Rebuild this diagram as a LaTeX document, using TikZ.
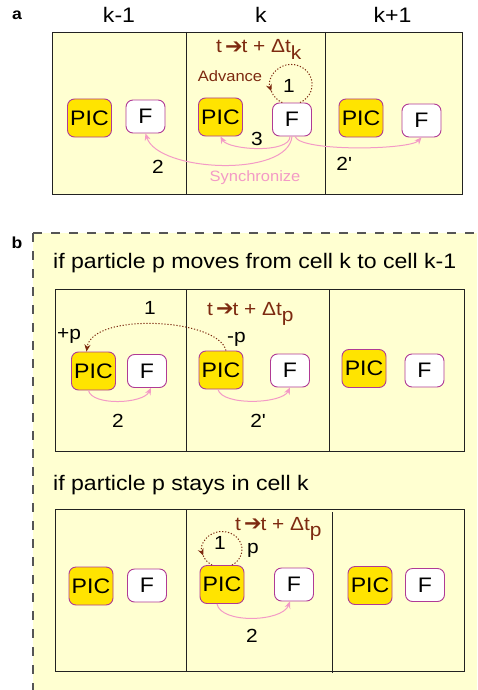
\documentclass[tikz,border=0pt]{standalone}
\usepackage{fontspec}
\setmainfont[FakeStretch=1.1]{Liberation Sans}
\newfontfamily\dvfont{DejaVu Sans}
\usetikzlibrary{arrows.meta,calc}
\definecolor{bgy}{HTML}{FFFFD1}
\definecolor{picy}{HTML}{FFE400}
\definecolor{magb}{HTML}{B03A95}
\definecolor{pinkc}{HTML}{F39AC6}
\definecolor{dred}{HTML}{7D2A10}
\definecolor{frm}{HTML}{222222}
\definecolor{dsh}{HTML}{555555}
\newcommand\fs[1]{\fontsize{#1}{#1}\selectfont}
\newcommand\tstep[1]{t\kern3pt{\dvfont\fontsize{21}{21}\selectfont\raisebox{-0.5pt}{➔}}\kern-1pt t + Δt\raisebox{-0.32em}{#1}}
\begin{document}
\begin{tikzpicture}[x=1pt,y=-1pt,
  pic/.style={draw=magb, fill=picy, rounded corners=7pt, minimum width=44pt, minimum height=38pt, inner sep=0pt, line width=0.9pt, font=\fs{21}},
  fb/.style={draw=magb, fill=white, rounded corners=7pt, minimum width=39pt, minimum height=33pt, inner sep=0pt, line width=0.9pt, font=\fs{21}},
  lbl/.style={inner sep=0pt, font=\fs{19}},
  hdr/.style={inner sep=0pt, font=\fs{21}, anchor=base},
  rtxt/.style={inner sep=0pt, text=dred, font=\fs{19}, anchor=base west},
  pk/.style={draw=pinkc, line width=1pt, -{Stealth[length=7pt,width=6pt]}},
  dl/.style={draw=dred, line width=1pt, dash pattern=on 1.2pt off 1.8pt},
  dlarr/.style={dl, -{Stealth[length=7pt,width=6pt]}},
  frame/.style={draw=frm, line width=0.9pt},
  dashbrd/.style={draw=dsh, line width=1.3pt, dash pattern=on 9pt off 9pt}
]
\useasboundingbox (0,0) rectangle (477,690);
\fill[white] (0,0) rectangle (477,690);

% ---------------- panel a ----------------
\fill[bgy] (52,32) rectangle (462,194);
\draw[frame] (52,32) rectangle (462,194);
\draw[frame] (186,32) -- (186,194);
\draw[frame] (325,32) -- (325,194);

\node[inner sep=0pt, font=\fs{16}\bfseries, anchor=base] (la) at (17,20) {a};
\node[hdr] (h1) at (119,23) {k-1};
\node[hdr] (h2) at (261,23) {k};
\node[hdr] (h3) at (392.5,23) {k+1};

\node[pic] (aP1) at (89.5,118) {PIC};
\node[fb]  (aF1) at (145.5,116.5) {F};
\node[pic] (aP2) at (220.5,117) {PIC};
\node[fb]  (aF2) at (292,119.5) {F};
\node[pic] (aP3) at (361,118) {PIC};
\node[fb]  (aF3) at (421.5,120.5) {F};

\node[rtxt] (ta) at (216,53) {\tstep{k}};
\node[inner sep=0pt, text=dred, font=\fs{15}] (adv) at (230,76) {Advance};
\node[lbl] (a1) at (289,86) {1};
\node[lbl] (a3) at (257,139) {3};
\node[lbl] (a2) at (158,167) {2};
\node[lbl] (a2p) at (344,164) {2\textquotesingle};
\node[inner sep=0pt, text=pinkc, font=\fs{15}, anchor=base] (sync) at (255,181) {Synchronize};

\draw[dlarr] ($(aF2.north)+(8,0)$) arc[start angle=65, end angle=-200, x radius=21, y radius=20] coordinate (lpa);
\draw[dl] (lpa) arc[start angle=160, end angle=115, x radius=21, y radius=20];

\draw[pk] ($(aF2.south)+(-2,0)$) .. controls (290,154) and (228,150) .. (aP2.south);
\draw[pk] (aF2.south) .. controls (288,178) and (158,172) .. (aF1.south);
\draw[pk] ($(aF2.south)+(3,0)$) .. controls (300,152) and (410,150) .. (aF3.south);

% ---------------- panel b ----------------
\fill[bgy] (33,233) rectangle (477,690);
\draw[dashbrd] (33,233) -- (477,233);
\draw[dashbrd] (33,233) -- (33,690);
\node[inner sep=0pt, font=\fs{16}\bfseries, anchor=base] (lb) at (17,248) {b};

\node[inner sep=0pt, font=\fs{21}, anchor=base west] (t1) at (53,268) {if particle p moves from cell k to cell k-1};

\draw[frame] (55,289) rectangle (464,451);
\draw[frame] (186,289) -- (186,451);
\draw[frame] (329,289) -- (329,451);

\node[pic] (bP1) at (93.5,371) {PIC};
\node[fb]  (bF1) at (147,371) {F};
\node[pic] (bP2) at (221,370) {PIC};
\node[fb]  (bF2) at (290,370.5) {F};
\node[pic] (bP3) at (364,368.5) {PIC};
\node[fb]  (bF3) at (424.5,370.5) {F};

\node[lbl] (b1) at (150,308) {1};
\node[rtxt] (tb) at (207,315) {\tstep{p}};
\node[lbl, anchor=base west] (pp) at (57,339) {+p};
\node[lbl, anchor=base west] (mp) at (227,342) {-p};
\node[lbl] (b2) at (118,421) {2};
\node[lbl] (b2p) at (258,421) {2\textquotesingle};

\draw[dlarr] ($(bP2.north)+(5,0)$) .. controls (218,318) and (92,312) .. ($(bP1.north)+(-7,0)$);
\draw[pk] ($(bP1.south)+(-5,0)$) .. controls (92,406) and (143,404) .. ($(bF1.south)+(4,0)$);
\draw[pk] ($(bP2.south)+(-3,0)$) .. controls (222,406) and (282,404) .. (bF2.south);

% ---------------- panel b, second part ----------------
\node[inner sep=0pt, font=\fs{21}, anchor=base west] (t2) at (53,490) {if particle p stays in cell k};

\draw[frame] (55,509) rectangle (464,671);
\draw[frame] (186,509) -- (186,672);
\draw[frame] (332,512) -- (332,673);

\node[pic] (cP1) at (91,586) {PIC};
\node[fb]  (cF1) at (147,585.5) {F};
\node[pic] (cP2) at (222,584.5) {PIC};
\node[fb]  (cF2) at (294,584.5) {F};
\node[pic] (cP3) at (370,585.5) {PIC};
\node[fb]  (cF3) at (425,585) {F};

\node[rtxt] (tc) at (235,530) {\tstep{p}};
\node[lbl] (c1) at (220,543) {1};
\node[lbl, anchor=base west] (cp) at (247,553) {p};
\node[lbl] (c2) at (252,636) {2};

\draw[dlarr] ($(cP2.north)+(10,0)$) arc[start angle=60, end angle=-200, x radius=20, y radius=18] coordinate (lpc);
\draw[dl] (lpc) arc[start angle=160, end angle=115, x radius=20, y radius=18];

\draw[pk] ($(cP2.south)+(-5,0)$) .. controls (221,624) and (282,622) .. ($(cF2.south)+(-4,0)$);
\end{tikzpicture}
\end{document}
